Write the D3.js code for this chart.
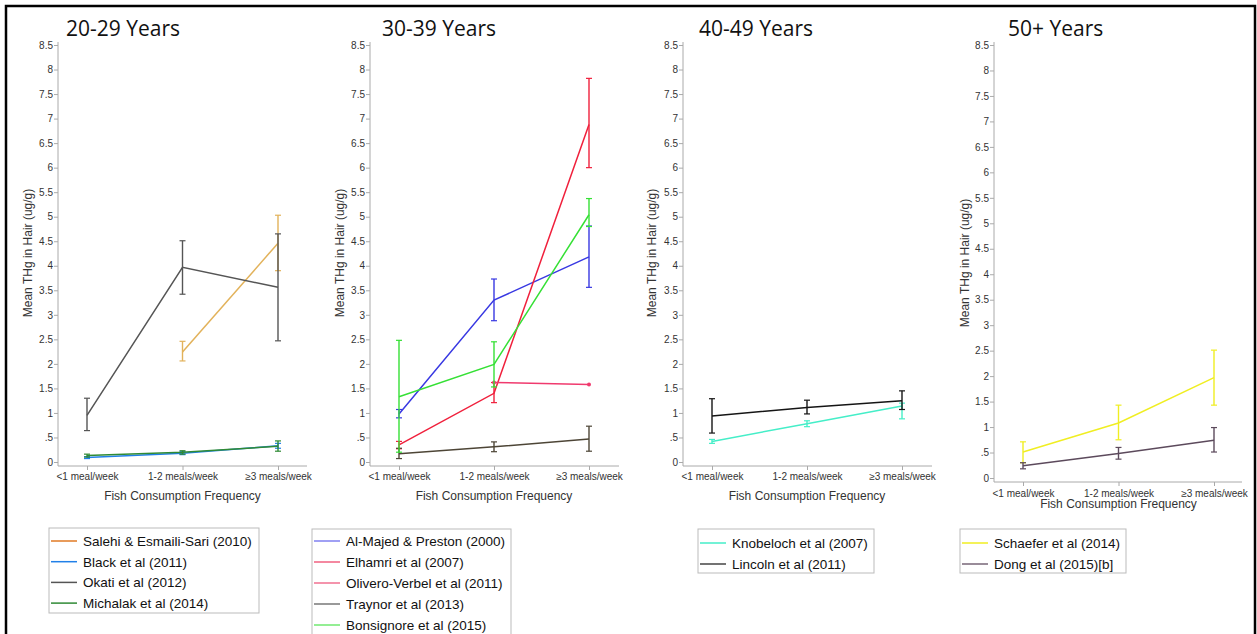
<!DOCTYPE html>
<html>
<head>
<meta charset="utf-8">
<script src="https://cdn.jsdelivr.net/npm/d3@7"></script>
<style>
  body { margin: 0; background: #fff; }
  svg { display: block; }
</style>
</head>
<body>
<div class="chart"></div>
<script>
// categories and tick labels
const categories = ["<1 meal/week", "1-2 meals/week", "≥3 meals/week"];
const yTicks = [0, .5, 1, 1.5, 2, 2.5, 3, 3.5, 4, 4.5, 5, 5.5, 6, 6.5, 7, 7.5, 8, 8.5];
const panelTitles = ["20-29 Years", "30-39 Years", "40-49 Years", "50+ Years"];

// mean THg and error bar ends per study (null = no value)
const salehi     = { name: "Salehi & Esmaili-Sari (2010)", mean: [null, 2.24, 4.46], lo: [null, 2.06, 3.9], hi: [null, 2.46, 5.03] };
const black      = { name: "Black et al (2011)", mean: [0.09, 0.18, 0.33], lo: [0.07, 0.15, 0.28], hi: [0.11, 0.21, 0.38] };
const okati      = { name: "Okati et al (2012)", mean: [0.95, 3.97, 3.56], lo: [0.64, 3.42, 2.47], hi: [1.3, 4.51, 4.65] };
const michalak   = { name: "Michalak et al (2014)", mean: [0.13, 0.2, 0.32], lo: [0.1, 0.16, 0.22], hi: [0.16, 0.23, 0.43] };

const alMajed    = { name: "Al-Majed & Preston (2000)", mean: [0.98, 3.3, 4.18], lo: [0.9, 2.88, 3.56], hi: [1.07, 3.73, 4.81] };
const elhamri    = { name: "Elhamri et al (2007)", mean: [0.35, 1.4, 6.88], lo: [0.27, 1.21, 6.0], hi: [0.42, 1.62, 7.82] };
const olivero    = { name: "Olivero-Verbel et al (2011)", mean: [null, 1.62, 1.58], lo: [null, null, null], hi: [null, null, null] };
const traynor    = { name: "Traynor et al (2013)", mean: [0.17, 0.31, 0.47], lo: [0.07, 0.21, 0.22], hi: [0.28, 0.41, 0.73] };
const bonsignore = { name: "Bonsignore et al (2015)", mean: [1.33, 1.99, 5.04], lo: [0.2, 1.53, 4.8], hi: [2.48, 2.45, 5.37] };

const knobeloch  = { name: "Knobeloch et al (2007)", mean: [0.42, 0.78, 1.14], lo: [0.38, 0.72, 0.88], hi: [0.46, 0.84, 1.2] };
const lincoln    = { name: "Lincoln et al (2011)", mean: [0.94, 1.11, 1.25], lo: [0.59, 0.98, 1.07], hi: [1.29, 1.26, 1.45] };

const schaefer   = { name: "Schaefer et al (2014)", mean: [0.51, 1.08, 1.97], lo: [0.3, 0.75, 1.43], hi: [0.71, 1.43, 2.51] };
const dong       = { name: "Dong et al (2015)[b]", mean: [0.24, 0.48, 0.74], lo: [0.18, 0.37, 0.51], hi: [0.3, 0.6, 0.99] };

const panelSeries = [
  [salehi, black, okati, michalak],
  [alMajed, elhamri, olivero, traynor, bonsignore],
  [knobeloch, lincoln],
  [schaefer, dong]
];

const colors = {
  "Salehi & Esmaili-Sari (2010)": "#e2b25a",
  "Black et al (2011)": "#2180e8",
  "Okati et al (2012)": "#555555",
  "Michalak et al (2014)": "#2f8a35",
  "Al-Majed & Preston (2000)": "#3838e2",
  "Elhamri et al (2007)": "#f0203c",
  "Olivero-Verbel et al (2011)": "#f03a6e",
  "Traynor et al (2013)": "#4d4536",
  "Bonsignore et al (2015)": "#35e035",
  "Knobeloch et al (2007)": "#45eec8",
  "Lincoln et al (2011)": "#151515",
  "Schaefer et al (2014)": "#f0ee22",
  "Dong et al (2015)[b]": "#5c4a5c"
};
const legendColors = {
  "Salehi & Esmaili-Sari (2010)": "#e07a25",
  "Al-Majed & Preston (2000)": "#8080f0",
  "Elhamri et al (2007)": "#f06080",
  "Olivero-Verbel et al (2011)": "#f07090",
  "Traynor et al (2013)": "#777",
  "Bonsignore et al (2015)": "#70e870",
  "Lincoln et al (2011)": "#444",
  "Dong et al (2015)[b]": "#776677"
};

// panel geometry
const panels = [
  { axisX: 58,  x0: 87,   x1: 278,  xEnd: 307,  y0: 462, yTop: 45, xAxisY: 466, tickLblY: 480, xTitleY: 500, yTitleX: 28,  yTitleY: 253, titleX: 66 },
  { axisX: 370, x0: 399,  x1: 589,  xEnd: 619,  y0: 462, yTop: 45, xAxisY: 466, tickLblY: 480, xTitleY: 500, yTitleX: 340, yTitleY: 253, titleX: 382 },
  { axisX: 683, x0: 712,  x1: 902,  xEnd: 932,  y0: 462, yTop: 45, xAxisY: 466, tickLblY: 480, xTitleY: 500, yTitleX: 652, yTitleY: 253, titleX: 699 },
  { axisX: 994, x0: 1023, x1: 1214, xEnd: 1242, y0: 478, yTop: 45, xAxisY: 482, tickLblY: 497, xTitleY: 508, yTitleX: 965, yTitleY: 263, titleX: 1008 }
];
const legends = [
  { x: 49,  y: 528, w: 210, h: 85,  rowY: 541, step: 20.7 },
  { x: 312, y: 529, w: 199, h: 120, rowY: 541, step: 21 },
  { x: 698, y: 529, w: 176, h: 44,  rowY: 543, step: 21 },
  { x: 960, y: 529, w: 166, h: 44,  rowY: 543, step: 21 }
];

const W = 1257, H = 634;
const svg = d3.select(".chart").append("svg").attr("width", W).attr("height", H);

svg.append("rect").attr("x", 6).attr("y", 6).attr("width", 1249).attr("height", 640)
  .attr("fill", "#fff").attr("stroke", "#000").attr("stroke-width", 2.5);

const fmt = d => d === 0 ? "0" : (d < 1 ? String(d).replace(/^0/, "") : String(d));

panels.forEach((p, pi) => {
  const g = svg.append("g");
  const x = d3.scalePoint().domain(categories).range([p.x0, p.x1]);
  const y = d3.scaleLinear().domain([0, 8.5]).range([p.y0, p.yTop]);

  // title
  g.append("text").attr("x", p.titleX).attr("y", 36)
    .attr("font-family", "Open Sans").attr("font-size", 21).attr("fill", "#111")
    .text(panelTitles[pi]);

  // y axis
  const yAxis = d3.axisLeft(y).tickValues(yTicks).tickFormat(fmt).tickSize(4).tickSizeOuter(0);
  const ya = g.append("g").attr("transform", `translate(${p.axisX},0)`).call(yAxis);
  ya.select(".domain").remove();
  ya.selectAll(".tick line").attr("stroke", "#aaa");
  ya.selectAll(".tick text").attr("font-family", "Liberation Sans").attr("font-size", 10).attr("fill", "#333").attr("x", -5);
  g.append("line").attr("x1", p.axisX).attr("x2", p.axisX).attr("y1", p.yTop - 3).attr("y2", p.xAxisY)
    .attr("stroke", "#aaa");

  // x axis
  const xAxis = d3.axisBottom(x).tickSize(4).tickSizeOuter(0);
  const xa = g.append("g").attr("transform", `translate(0,${p.xAxisY})`).call(xAxis);
  xa.select(".domain").remove();
  xa.selectAll(".tick line").attr("stroke", "#aaa");
  xa.selectAll(".tick text").attr("font-family", "Liberation Sans").attr("font-size", 10).attr("fill", "#333")
    .attr("y", p.tickLblY - p.xAxisY).attr("dy", 0);
  g.append("line").attr("x1", p.axisX).attr("x2", p.xEnd).attr("y1", p.xAxisY).attr("y2", p.xAxisY)
    .attr("stroke", "#aaa");

  // axis titles
  g.append("text").attr("x", (p.x0 + p.x1) / 2).attr("y", p.xTitleY).attr("text-anchor", "middle")
    .attr("font-family", "Liberation Sans").attr("font-size", 12).attr("fill", "#333")
    .text("Fish Consumption Frequency");
  g.append("text").attr("transform", `translate(${p.yTitleX},${p.yTitleY}) rotate(-90)`)
    .attr("text-anchor", "middle").attr("dy", "0.35em")
    .attr("font-family", "Liberation Sans").attr("font-size", 12).attr("fill", "#333")
    .text("Mean THg in Hair (ug/g)");

  // series
  const line = d3.line().defined(d => d.v !== null).x(d => x(d.c)).y(d => y(d.v));
  panelSeries[pi].forEach(s => {
    const col = colors[s.name];
    const pts = categories.map((c, i) => ({ c, v: s.mean[i], lo: s.lo[i], hi: s.hi[i] }));
    const eb = pts.filter(d => d.lo !== null && d.hi !== null);
    g.selectAll(null).data(eb).enter().append("line")
      .attr("x1", d => x(d.c)).attr("x2", d => x(d.c))
      .attr("y1", d => y(d.lo)).attr("y2", d => y(d.hi))
      .attr("stroke", col).attr("stroke-width", 1.4);
    ["lo", "hi"].forEach(k => {
      g.selectAll(null).data(eb).enter().append("line")
        .attr("x1", d => x(d.c) - 3).attr("x2", d => x(d.c) + 3)
        .attr("y1", d => y(d[k])).attr("y2", d => y(d[k]))
        .attr("stroke", col).attr("stroke-width", 1.2);
    });
    g.append("path").datum(pts).attr("d", line)
      .attr("fill", "none").attr("stroke", col).attr("stroke-width", 1.5);
    if (s === olivero) {
      g.selectAll(null).data(pts.filter(d => d.v !== null)).enter().append("circle")
        .attr("cx", d => x(d.c)).attr("cy", d => y(d.v)).attr("r", 2).attr("fill", col);
    }
  });

  // legend
  const L = legends[pi];
  const lg = svg.append("g");
  lg.append("rect").attr("x", L.x).attr("y", L.y).attr("width", L.w).attr("height", L.h)
    .attr("fill", "#fff").attr("stroke", "#bbb");
  panelSeries[pi].forEach((s, i) => {
    const yy = L.rowY + i * L.step;
    lg.append("line").attr("x1", L.x + 2).attr("x2", L.x + 28).attr("y1", yy).attr("y2", yy)
      .attr("stroke", legendColors[s.name] || colors[s.name]).attr("stroke-width", 1.5);
    lg.append("text").attr("x", L.x + 34).attr("y", yy).attr("dy", "0.36em")
      .attr("font-family", "Liberation Sans").attr("font-size", 13.5).attr("fill", "#111")
      .text(s.name);
  });
});
</script>
</body>
</html>
